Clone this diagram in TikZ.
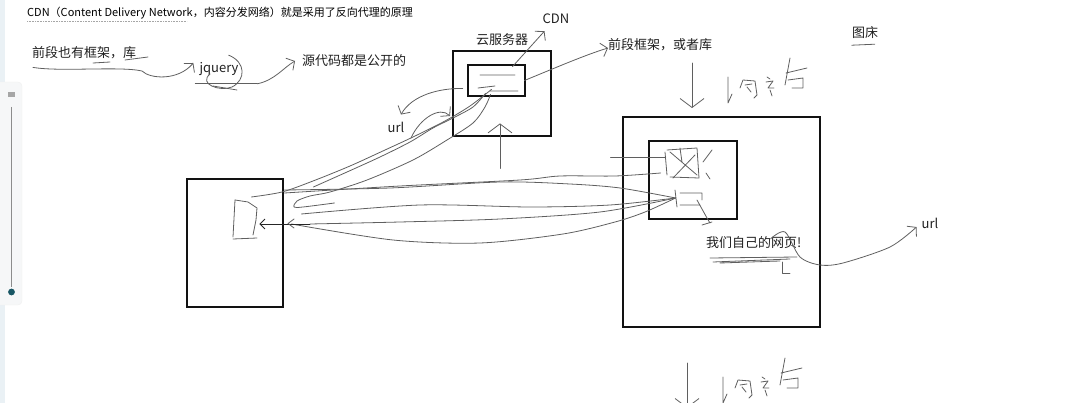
\documentclass[tikz,border=0pt]{standalone}
\usepackage{fontspec}
\setmainfont{Noto Sans CJK SC}
\usepackage{xcolor}
\definecolor{ink}{RGB}{95, 95, 95}
\definecolor{primary}{RGB}{18, 18, 18}
\definecolor{panelbg}{RGB}{246, 247, 248}
\definecolor{edgebg}{RGB}{234, 241, 245}
\definecolor{sliderdot}{RGB}{24, 86, 100}
\usetikzlibrary{arrows.meta,positioning,calc}

\begin{document}
\begin{tikzpicture}[
  x=1pt, y=-1pt,
  framebox/.style={draw=primary, line width=2.8pt, inner sep=0pt},
  pen/.style={draw=ink, line width=0.8pt, line cap=round, line join=round},
  penarrow/.style={pen, -{Straight Barb[length=6pt, width=14pt]}},
  bigarrow/.style={pen, -{Straight Barb[length=9pt, width=24pt]}},
  smallnote/.style={font=\fontsize{13pt}{15pt}\selectfont, text=black!88, inner sep=0pt},
  jotting/.pic={
    \draw[bigarrow] (0,0) -- (0,45);
    \draw[pen] (36,14) -- (36,40) -- (40,31);
    \draw[pen] (48,25) -- (51,17) -- (63,18) -- (65,32) -- (62,35);
    \draw[pen] (53,22) -- (60,21) (55,24) -- (59,29);
    \draw[pen] (75,14) -- (78,16) (74,19) -- (81,18) -- (76,25) -- (82,25) (78,27) -- (80,33);
    \draw[pen] (98,-5) -- (93,22) (94,10) -- (115,5);
    \draw[pen] (96,17) -- (111,15) -- (111,25) -- (100,25);
  }
]
\useasboundingbox (0,0) rectangle (1081,403);
% side panel of the screen
\fill[edgebg] (0,0) rectangle (5,403);
\fill[panelbg, draw=black!6, rounded corners=4pt] (-4,82) rectangle (22,305);
\fill[black!35] (8,92) rectangle (15,97);
\draw[black!45, line width=1.6pt] (11.5,107) -- (11.5,287);
\fill[sliderdot] (11.5,292) circle (3.4);

% texts
\node[anchor=west, inner sep=0pt, font=\fontsize{11pt}{13pt}\selectfont] (title) at (27,13) {CDN（Content Delivery Network，内容分发网络）就是采用了反向代理的原理};
\draw[black!35, densely dotted, line width=0.6pt] ([yshift=-2pt]title.south west) -- ++(160,0);
\node[smallnote, anchor=west] (frontlib) at (32,53) {前段也有框架，库};
\node[smallnote] (jquery) at (219,69) {jquery};
\node[smallnote, anchor=west] (opensrc) at (302,61) {源代码都是公开的};
\node[smallnote] (cdnname) at (556,19) {CDN};
\node[smallnote, anchor=west] (libname) at (608,45) {前段框架，或者库};
\node[smallnote] (urlleft) at (396,127) {url};
\node[smallnote] (urlright) at (930,223) {url};
\node[smallnote, anchor=west] (ownpage) at (706,243) {我们自己的网页!};
\node[smallnote] (imghost) at (865,33) {图床};
\draw[pen] ([yshift=-6pt]imghost.south west) -- ++(23,-1);

% boxes
\node[framebox, minimum width=96pt, minimum height=128pt] (client) at (235,243) {};
\node[framebox, minimum width=98pt, minimum height=85pt] (cdn) at (502,93.5) {};
\node[framebox, minimum width=57pt, minimum height=31pt] (cdnlib) at (496.5,80.5) {};
\node[smallnote, above=4pt of cdn] (cloudname) {云服务器};
\node[framebox, minimum width=197pt, minimum height=210pt] (site) at (721.5,222) {};
\node[framebox, minimum width=88pt, minimum height=78pt] (pic) at (693,180) {};

% scribbles inside the boxes
\draw[pen] (480,75) -- (515,75) (478,88) -- (495,86) (490,91) -- (518,91);
\draw[pen] (235,200) -- (248,202) -- (257,208) -- (256,220) -- (253,235);
\draw[pen] (235,200) -- (233,237) (233,239) -- (257,238);
\draw[pen] (665,152) -- (667,175) (667,150) -- (697,148) -- (699,178) -- (670,177);
\draw[pen] (670,152) -- (697,175) (695,155) -- (673,178) (680,148) -- (682,162);
\draw[pen] (703,162) -- (712,150) (706,173) -- (710,179);
\draw[pen] (675,190) -- (677,207) (680,193) -- (702,193) -- (702,200) (680,205) -- (700,205);
\draw[pen] (697,200) -- (707,218) -- (710,223) (702,225) -- (712,222);
\draw[pen] (710,258) -- (797,257) (713,262) -- (790,259) (720,263) -- (780,261);
\draw[pen] (782,262) -- (782,273) -- (790,273);

% jquery notes
\draw[penarrow] ($(frontlib.south west)+(1,8)$) .. controls (60,72) and (120,66) .. (142,71)
  .. controls (150,79) and (178,81) .. ($(jquery.west)+(-6,-6)$);
\draw[pen] (93,63) -- (110,62) (125,60) -- (148,57);
\draw[pen] ($(jquery.north east)+(-10,-7)$) .. controls (246,62) and (246,80) .. (232,87)
  .. controls (220,92) and (198,84) .. (210,74);
\draw[pen] (213,86) -- (237,90);
\draw[pen] ($(jquery.south west)+(-4,8)$) -- ++(62,0) coordinate (jqend);
\draw[penarrow] (jqend) .. controls (275,80) and (283,68) .. ($(opensrc.west)+(-7,0)$);

% cloud server notes
\draw[penarrow] ($(cdnlib.north)+(16,3)$) -- ($(cdnname.south west)+(2,7)$);
\draw[penarrow] ($(cdnlib.east)+(-2,0)$) .. controls (555,68) and (585,55) .. ($(libname.west)+(0,3)$);
\draw[bigarrow] ($(cdn.south)+(-2,31)$) -- ($(cdn.south)+(-2,-14)$);
\draw[penarrow] ($(cdnlib.west)+(-4,8)$) .. controls (440,88) and (412,95) .. ($(urlleft.north)+(5,-7)$);

% client <-> cdn
\coordinate (cA) at ($(client.east)+(-33,-46)$);
\coordinate (cB) at ($(client.east)+(29,-56)$);
\coordinate (cC) at ($(client.east)+(50,-40)$);
\coordinate (dA) at ($(cdnlib.south)+(-5,-8)$);
\coordinate (dB) at ($(cdnlib.south)+(-11,-4)$);
\coordinate (dC) at ($(cdnlib.south)+(-6,-3)$);
\draw[pen] plot[smooth] coordinates {(cA) (282,192) (313,181) (350,166) (385,150) (413,137) (445,121) (470,106) (dA)};
\draw[pen] plot[smooth] coordinates {(cB) (347,172) (380,157) (410,142) (433,128) (453,118) (473,107) (dB)};
\draw[pen] plot[smooth] coordinates {(cC) (303,207) (294,207) (297,201) (310,196) (330,192) (367,180) (413,160) (447,140) (473,123) (485,107) (dC)};
\coordinate (loopstart) at (411,138);
\draw[penarrow] (loopstart) .. controls (420,118) and (440,106) .. (450,116);

% client <-> picture host
\coordinate (pL) at ($(pic.west)+(28,18)$);
\draw[pen] plot[smooth] coordinates {($(client.east)+(0,-50)$) (400,186) (520,180) (560,176) (615,176) ($(pic.west)+(13,-7)$)};
\draw[pen] plot[smooth] coordinates {($(client.east)+(0,-53)$) (390,188) (500,182) (570,184) (620,188) (pL)};
\draw[pen] plot[smooth] coordinates {($(client.east)+(17,-29)$) (420,205) (530,207) (610,205) (pL)};
\draw[pen] plot[smooth] coordinates {($(client.east)+(7,-19)$) (393,240) (480,243) (563,234) (615,222) (645,212) (pL)};
\draw[pen] plot[smooth] coordinates {(pL) (600,212) (500,219) (400,222) (310,224)};
\draw[pen, draw=black!85, -{Straight Barb[length=5pt, width=10pt]}] (310,224) -- ($(client.east)+(-25,-19)$);
\draw[pen] (294,219) -- (288,223.5) -- (294,228);
\draw[pen] ($(site.west)+(-11,-65)$) -- ($(pic.west)+(18,-23)$);

% own page -> url
\draw[penarrow] plot[smooth] coordinates {($(ownpage.north east)+(-31,2)$) (785,232) (800,257) (820,265) (843,263) (890,247) ($(urlright.west)+(-5,4)$)};

% handwritten notes
\pic at (692,63) {jotting};
\pic at (687,363) {jotting};
\end{tikzpicture}
\end{document}
